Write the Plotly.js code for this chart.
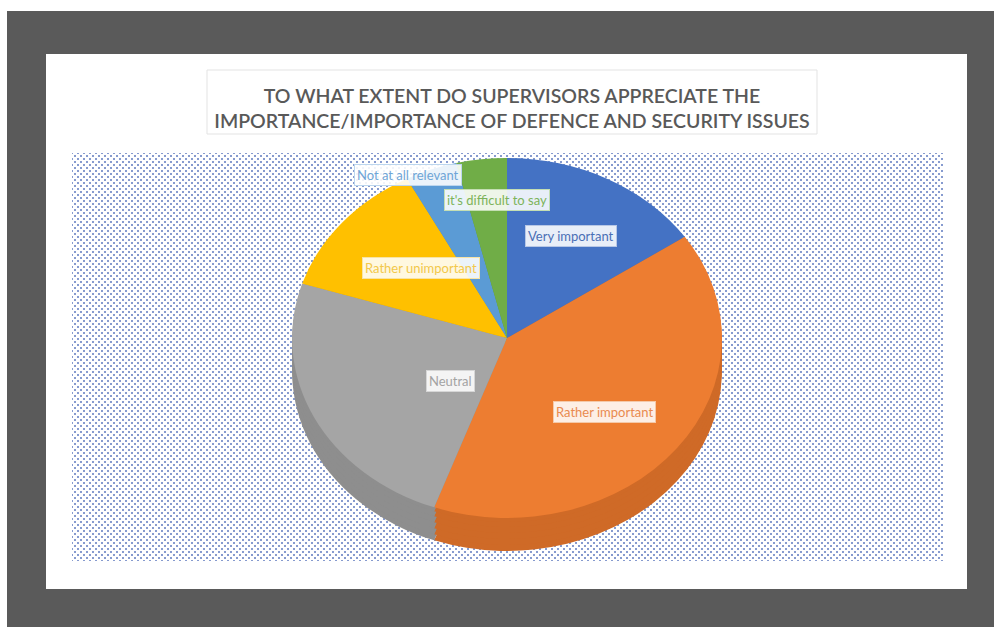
<!DOCTYPE html>
<html>
<head>
<meta charset="utf-8">
<script src="https://cdn.plot.ly/plotly-3.0.1.min.js"></script>
<style>
  html, body { margin: 0; padding: 0; background: #ffffff; }
  #stage { position: relative; width: 994px; height: 627px; overflow: hidden; background: #ffffff; }
  #frame { position: absolute; left: 7px; top: 11px; width: 987px; height: 616px; background: #5a5a5a; }
  #sheet { position: absolute; left: 46px; top: 54px; width: 921px; height: 535px; background: #ffffff; }
  #dots { position: absolute; left: 72px; top: 153px; width: 871px; height: 408px;
          background-color: #ffffff;
          background-image: radial-gradient(circle, rgba(105,130,195,0.8) 0.95px, rgba(255,255,255,0) 1.35px),
                            radial-gradient(circle, rgba(105,130,195,0.8) 0.95px, rgba(255,255,255,0) 1.35px);
          background-size: 6px 6px, 6px 6px;
          background-position: 0 0, 3px 3px; }
  #pie { position: absolute; left: 307px; top: 138px; width: 400px; height: 440px;
         transform: scaleX(1.194); transform-origin: 200px 200px; }
  #labels { position: absolute; left: 0; top: 0; width: 994px; height: 627px; }
</style>
</head>
<body>
<div id="stage">
  <div id="frame"></div>
  <div id="sheet"></div>
  <div id="dots"></div>
  <div id="pie"></div>
  <div id="labels"></div>
</div>
<script>
// ---- data ----
const categories = ['Very important', 'Rather important', 'Neutral', 'Rather unimportant', 'Not at all relevant', "it's difficult to say"];
const values = [15.5, 40.0, 24.4, 12.4, 3.9, 3.8];
const titleText = 'TO WHAT EXTENT DO SUPERVISORS APPRECIATE THE<br>IMPORTANCE/IMPORTANCE OF DEFENCE AND SECURITY ISSUES';

// ---- styles ----
const topColors  = ['#4472C4', '#ED7D31', '#A5A5A5', '#FFC000', '#5B9BD5', '#70AD47'];
const sideColors = ['#3A62A8', '#CF6A27', '#8E8E8E', '#DBA500', '#4E86B8', '#5F953C'];
const labelColors = ['#4A6FB5', '#E98A4F', '#A3A3A3', '#F2C84B', '#6FA5D6', '#7DB35A'];
const labelBorders = ['#B7C7E6', '#F5C9A8', '#D6D6D6', '#F7E3A5', '#BCD6EE', '#C4DEB3'];
// label placement: radial fraction of the top face, and pixel nudges
const labelR = [0.64, 0.61, 0.36, 0.56, 1.02, 0.77];
const labelShiftX = [0, -6, 13, 6, -22, 10];
const labelShiftY = [0, 7, 14, -5, -2, -11];

// ---- pie (top face + side layers) ----
const W = 400, H = 440, R = 180, CX = 200, CY = 200;
function pieTrace(colors, dy) {
  return {
    type: 'pie', values: values, labels: categories, sort: false, direction: 'clockwise', rotation: 0,
    marker: { colors: colors, line: { width: 0 } },
    textinfo: 'none', hoverinfo: 'skip', showlegend: false,
    domain: { x: [(CX - R) / W, (CX + R) / W], y: [1 - (CY + R + dy) / H, 1 - (CY - R + dy) / H] }
  };
}
const pieTraces = [];
const steps = [33, 27, 21, 15, 9, 4];
steps.forEach(d => pieTraces.push(pieTrace(sideColors, d)));
pieTraces.push(pieTrace(topColors, 0));
Plotly.newPlot('pie', pieTraces, {
  width: W, height: H, margin: { l: 0, r: 0, t: 0, b: 0 },
  paper_bgcolor: 'rgba(0,0,0,0)', plot_bgcolor: 'rgba(0,0,0,0)', showlegend: false
}, { staticPlot: true });

// ---- labels + title layer ----
const PW = 994, PH = 627;
const centerX = 507, centerY = 338, AX = R * 1.194, AY = R;
const total = values.reduce((a, b) => a + b, 0);
let cum = 0;
const annotations = categories.map((c, i) => {
  const mid = (cum + values[i] / 2) / total * 2 * Math.PI;
  cum += values[i];
  const px = centerX + AX * labelR[i] * Math.sin(mid) + labelShiftX[i];
  const py = centerY - AY * labelR[i] * Math.cos(mid) + labelShiftY[i];
  return {
    xref: 'paper', yref: 'paper', x: px / PW, y: 1 - py / PH, showarrow: false,
    text: c, font: { family: 'Lato, sans-serif', size: 13, color: labelColors[i] },
    bgcolor: 'rgba(255,255,255,0.88)', bordercolor: labelBorders[i], borderwidth: 1, borderpad: 2
  };
});
Plotly.newPlot('labels', [], {
  width: PW, height: PH, margin: { l: 0, r: 0, t: 0, b: 0 },
  paper_bgcolor: 'rgba(0,0,0,0)', plot_bgcolor: 'rgba(0,0,0,0)',
  xaxis: { visible: false }, yaxis: { visible: false },
  title: {
    text: titleText, x: 512 / PW, xanchor: 'center', y: 1 - 103 / PH, yanchor: 'middle',
    font: { family: 'Lato, sans-serif', size: 19.5, weight: 600, color: '#595959' }
  },
  shapes: [{
    type: 'rect', xref: 'paper', yref: 'paper', layer: 'below',
    x0: 207 / PW, x1: 817 / PW, y0: 1 - 134 / PH, y1: 1 - 70 / PH,
    line: { color: '#E3E3E3', width: 1 }, fillcolor: 'rgba(255,255,255,0)'
  }],
  annotations: annotations
}, { staticPlot: true });
</script>
</body>
</html>
